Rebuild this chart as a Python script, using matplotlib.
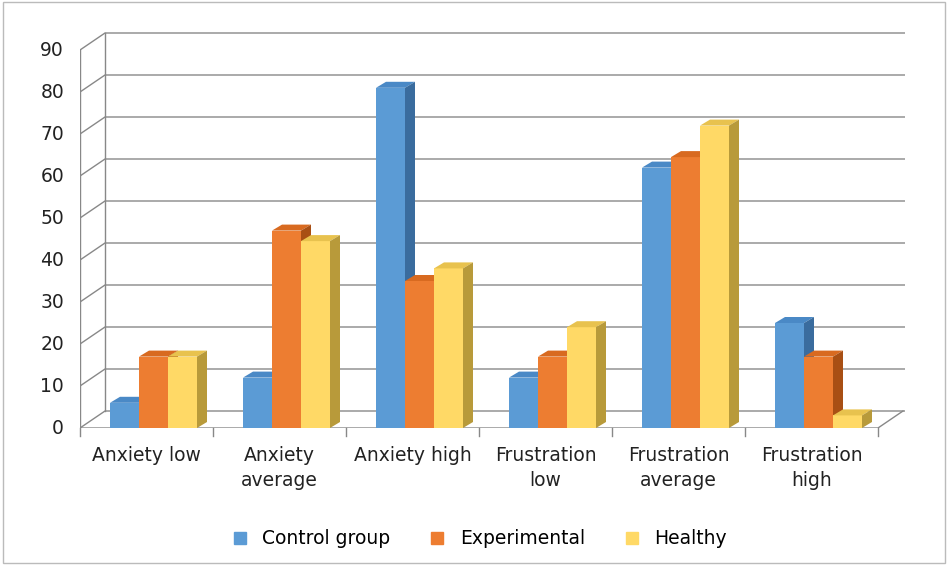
import numpy as np
import matplotlib.pyplot as plt
from matplotlib.patches import Polygon, Rectangle

categories = ['Anxiety low', 'Anxiety\naverage', 'Anxiety high', 'Frustration\nlow', 'Frustration\naverage', 'Frustration\nhigh']
series = ['Control group', 'Experimental', 'Healthy']
control = [6, 12, 81, 12, 62, 25]
experimental = [17, 47, 35, 17, 64.5, 17]
healthy = [17, 44.5, 38, 24, 72, 3]
values = [control, experimental, healthy]
y_ticks = list(range(0, 100, 10))

fronts = ['#5B9BD5', '#ED7D31', '#FFD966']
tops = ['#4A89C6', '#D86A20', '#E8C24E']
sides = ['#3A6C9E', '#A84F14', '#B89A3A']

fig = plt.figure(figsize=(9.48, 5.65), dpi=100)
W, H = 948, 565
ax = fig.add_axes([80 / W, (H - 428) / H, 825 / W, 400 / H])
ax.set_xlim(0, 825 / 133)
ax.set_ylim(0, 400 / 4.2)
ax.axis('off')

ddx, ddy = 25 / 133, 17 / 4.2
gc = '#888888'
for y in y_ticks:
    ax.plot([0, ddx, 825 / 133], [y, y + ddy, y + ddy], color=gc, lw=1, zorder=1)
    ax.text(-0.12, y, str(y), ha='right', va='center', fontsize=13.5, color='#222222')
ax.plot([0, 0], [0, 90], color=gc, lw=1, zorder=1)
ax.plot([ddx, ddx], [ddy, 90 + ddy], color=gc, lw=1, zorder=1)
ax.plot([0, 6, 6 + ddx], [0, 0, ddy], color=gc, lw=1, zorder=1)
for i in range(7):
    ax.plot([i, i], [0, -1.8], color=gc, lw=1, clip_on=False)
for i, c in enumerate(categories):
    ax.text(i + 0.5, -4.2, c, ha='center', va='top', fontsize=13.5, color='#222222', linespacing=1.45)

bw = 29 / 133
bdx, bdy = 10 / 133, 6 / 4.2
for i in range(len(categories)):
    for s in range(3):
        x0 = i + 30 / 133 + s * bw
        v = values[s][i]
        z = 3 + s
        ax.add_patch(Rectangle((x0, 0), bw, v, facecolor=fronts[s], edgecolor='none', zorder=z))
        ax.add_patch(Polygon([(x0, v), (x0 + bdx, v + bdy), (x0 + bw + bdx, v + bdy), (x0 + bw, v)],
                             facecolor=tops[s], edgecolor='none', zorder=z))
        ax.add_patch(Polygon([(x0 + bw, 0), (x0 + bw + bdx, bdy), (x0 + bw + bdx, v + bdy), (x0 + bw, v)],
                             facecolor=sides[s], edgecolor='none', zorder=z))

for s, name in enumerate(series):
    ax.plot([], [], 's', color=fronts[s], markersize=9, label=name)
fig.legend(loc='lower center', bbox_to_anchor=(0.5, 0.0), ncol=3, frameon=False,
           fontsize=13.5, handletextpad=0.2, columnspacing=1.5)

fig.add_artist(Rectangle((0.003, 0.003), 0.994, 0.994, transform=fig.transFigure,
                         fill=False, edgecolor='#bbbbbb', lw=1))
fig.savefig('out.png', dpi=100)
